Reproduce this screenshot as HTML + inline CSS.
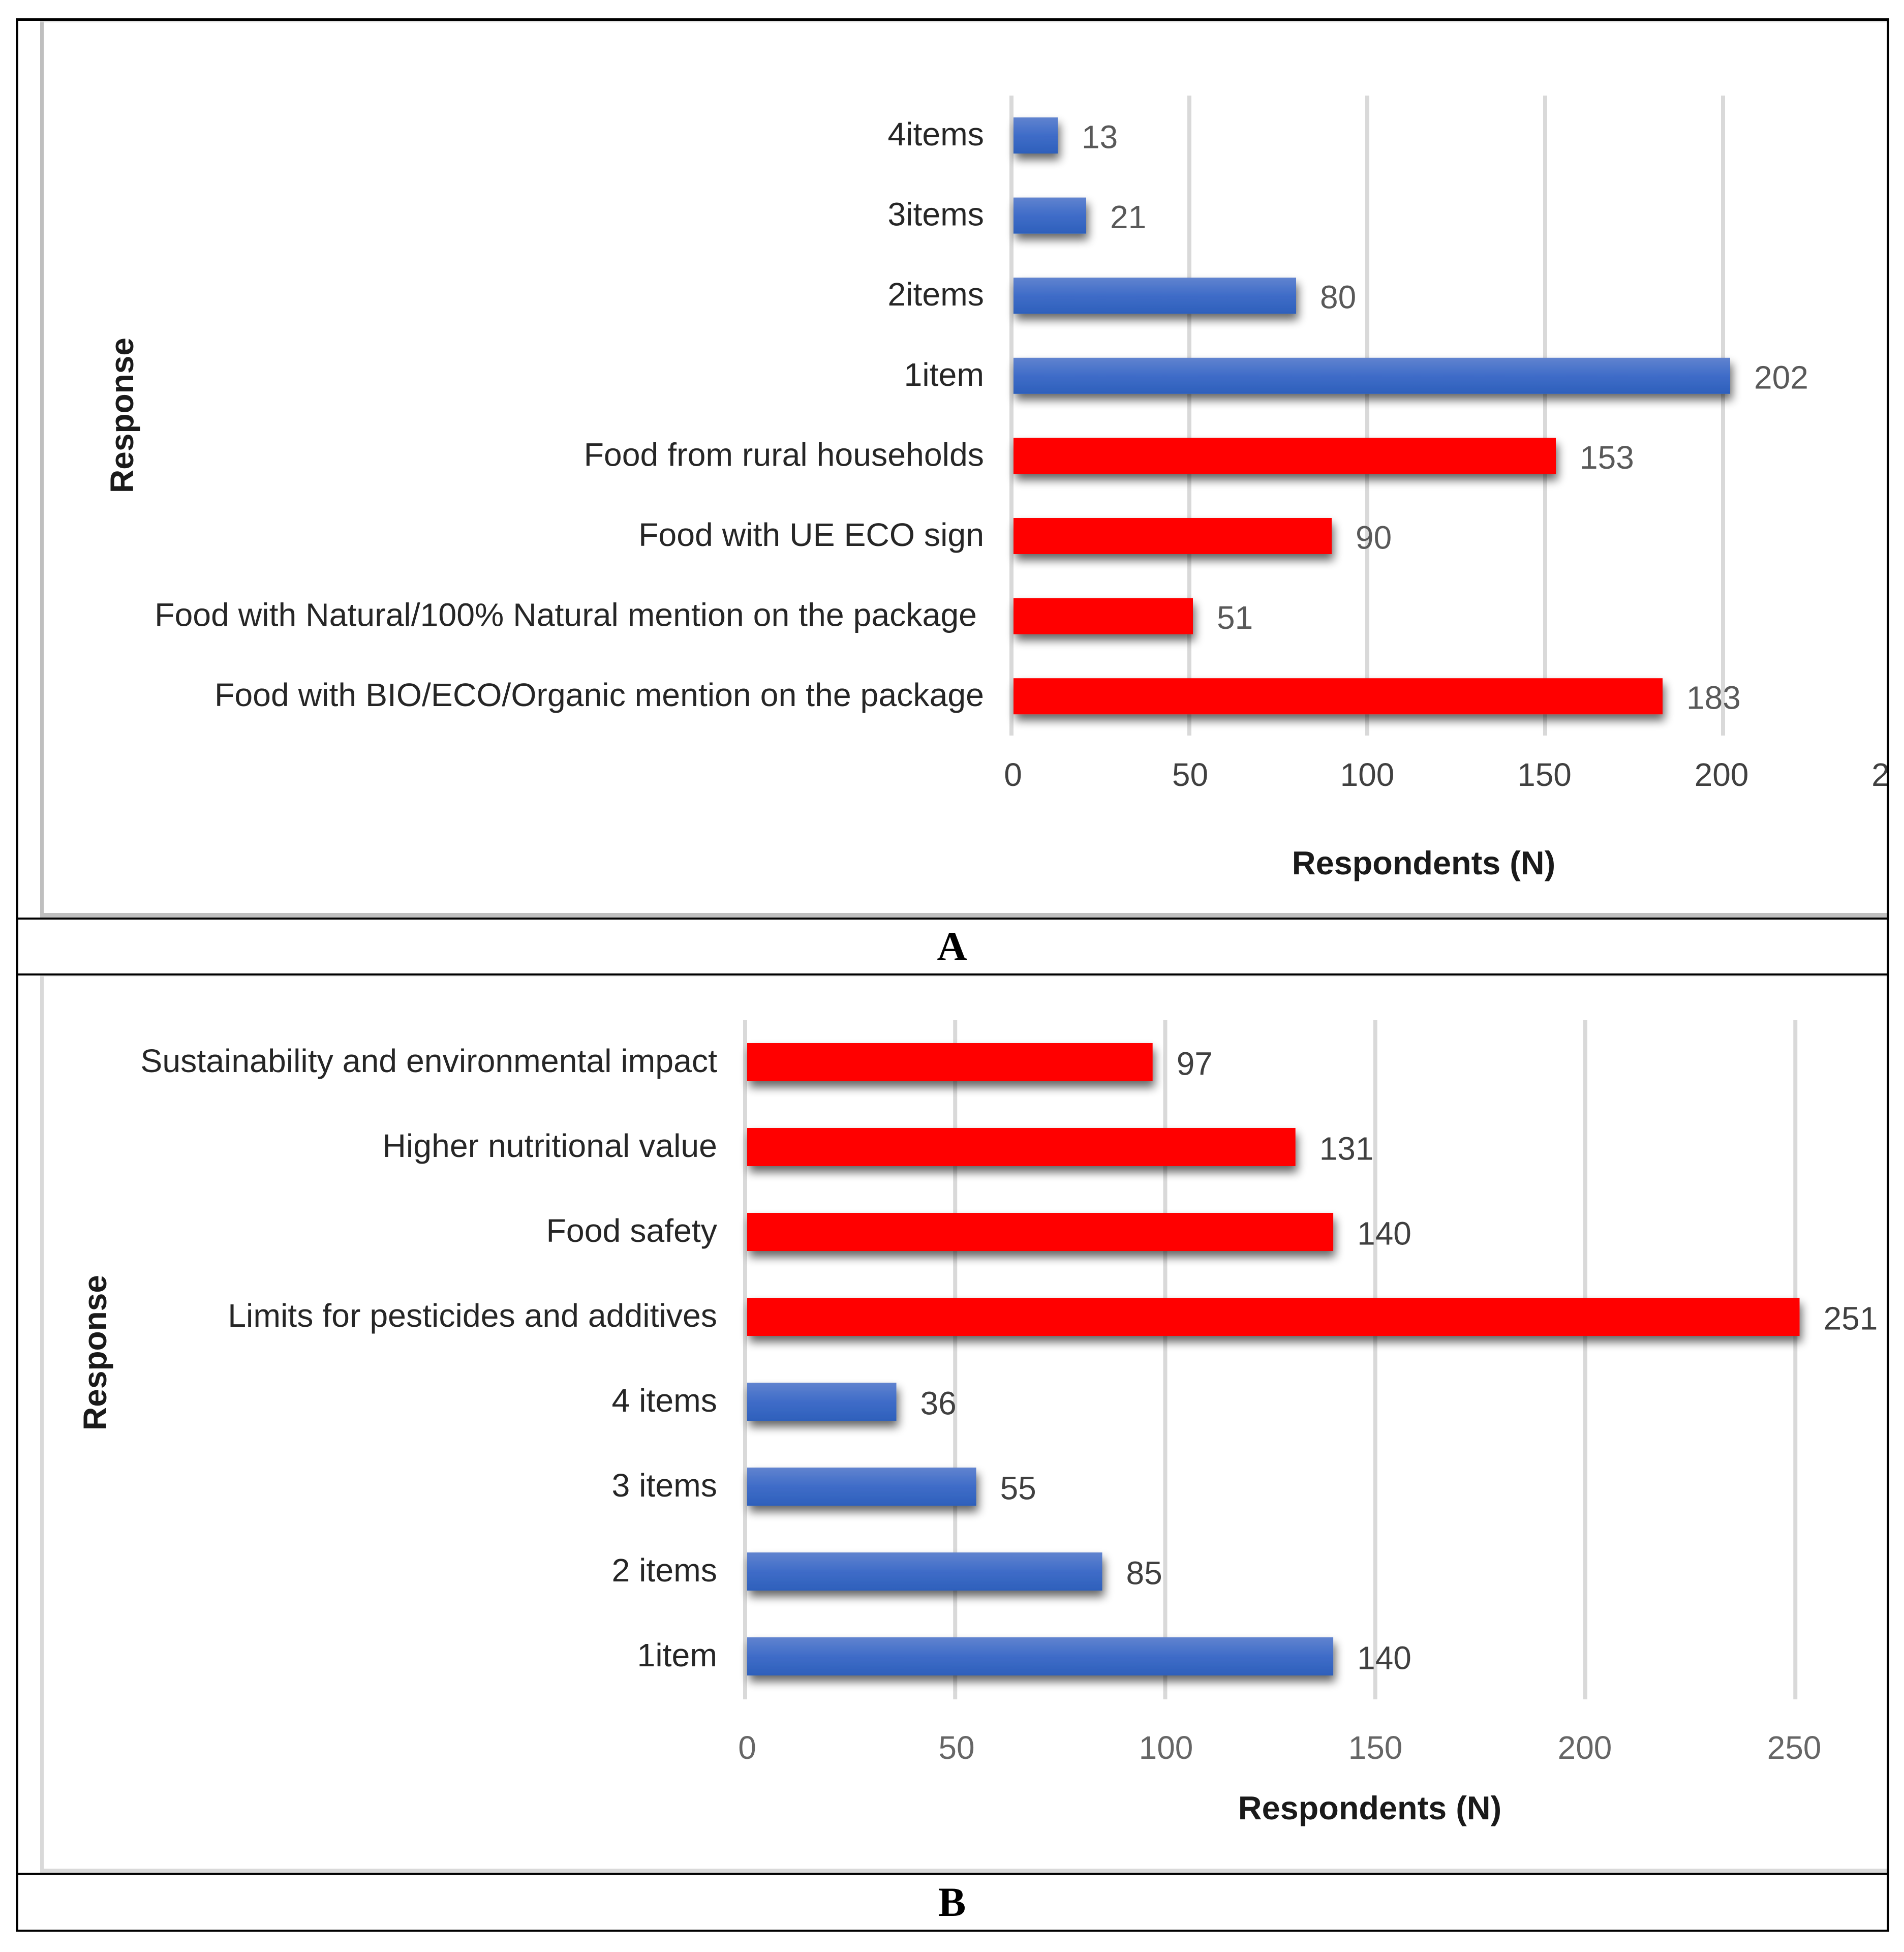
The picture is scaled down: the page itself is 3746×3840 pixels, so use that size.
<!DOCTYPE html>
<html lang="en">
<head>
<meta charset="utf-8">
<title>Respondents by response</title>
<style>
html,body{margin:0;padding:0;background:#fff}
svg{display:block;font-family:"Liberation Sans",Arial,sans-serif}
</style>
</head>
<body>
<svg id="figure" xmlns="http://www.w3.org/2000/svg" width="3746" height="3840" viewBox="0 0 3746 3840">
  <defs>
    <linearGradient id="blueFill" x1="0" y1="0" x2="0" y2="1">
      <stop offset="0" stop-color="#6083cf"/>
      <stop offset="0.5" stop-color="#3f6cc8"/>
      <stop offset="1" stop-color="#2e60bb"/>
    </linearGradient>
    <filter id="barShadow" filterUnits="userSpaceOnUse" x="1300" y="100" width="2446" height="3400">
      <feGaussianBlur in="SourceAlpha" stdDeviation="9"/>
      <feOffset dx="4" dy="12"/>
      <feComponentTransfer><feFuncA type="linear" slope="0.6"/></feComponentTransfer>
      <feMerge><feMergeNode/><feMergeNode in="SourceGraphic"/></feMerge>
    </filter>
  </defs>
  <rect width="3746" height="3840" fill="#fff"/>
  <g id="chartA"></g>
  <g id="chartB"></g>

  <rect x="3716" y="0" width="30" height="3840" fill="#fff"/>

  <g fill="#bfbfbf">
    <rect x="79" y="40" width="7" height="1765"/>
    <rect x="79" y="1796" width="3636" height="9"/>
    <rect x="79" y="42" width="3636" height="2" fill="#d9d9d9"/>
  </g>
  <g fill="#d9d9d9">
    <rect x="79" y="1918" width="7" height="1766"/>
    <rect x="79" y="3676" width="3636" height="8"/>
    <rect x="79" y="1918" width="3636" height="3" fill="#e6e6e6"/>
  </g>

  <g fill="#000">
    <rect x="31" y="36" width="3686" height="5"/>
    <rect x="31" y="36" width="5" height="3764"/>
    <rect x="3712" y="36" width="5" height="3764"/>
    <rect x="31" y="1805" width="3686" height="4"/>
    <rect x="31" y="1915" width="3686" height="4"/>
    <rect x="31" y="3684" width="3686" height="4"/>
    <rect x="31" y="3796" width="3686" height="4"/>
  </g>

  <text x="1873" y="1889" text-anchor="middle" font-family="'Liberation Serif',serif" font-weight="700" font-size="82" fill="#000">A</text>
  <text x="1873" y="3769" text-anchor="middle" font-family="'Liberation Serif',serif" font-weight="700" font-size="82" fill="#000">B</text>
</svg>
<script>
const categoriesA = ["4items","3items","2items","1item","Food from rural households","Food with UE ECO sign","Food with Natural/100% Natural mention on the package","Food with BIO/ECO/Organic mention on the package"];
const valuesA = [13,21,80,202,153,90,51,183];
const kindsA = ["count","count","count","count","type","type","type","type"];
const ticksA = [0,50,100,150,200,250];

const categoriesB = ["Sustainability and environmental impact","Higher nutritional value","Food safety","Limits for pesticides and additives","4 items","3 items","2 items","1item"];
const valuesB = [97,131,140,251,36,55,85,140];
const kindsB = ["reason","reason","reason","reason","count","count","count","count"];
const ticksB = [0,50,100,150,200,250];

const SVGNS = "http://www.w3.org/2000/svg";
function make(tag, attrs, parent, content) {
  const el = document.createElementNS(SVGNS, tag);
  for (const k in attrs) el.setAttribute(k, attrs[k]);
  if (content !== undefined) el.textContent = content;
  parent.appendChild(el);
  return el;
}
function slug(s) {
  return String(s).toLowerCase().replace(/[^a-z0-9]+/g, '-').replace(/^-|-$/g, '');
}

function drawChart(root, prefix, cfg) {
  const x = v => cfg.x0 + cfg.unit * v;
  const tx = v => cfg.tickX0 + cfg.tickUnit * v;
  const y = i => cfg.bandTop + cfg.bandStep * i;

  cfg.ticks.forEach(t => {
    const grid = make('rect', {x: x(t) - 4, y: cfg.gridTop, width: 8, height: cfg.gridBottom - cfg.gridTop, fill: '#d9d9d9'}, root);
    
    
    if (x(t) > 3700) grid.setAttribute('display', 'none');
    const tick = make('text', {x: tx(t), y: cfg.tickBaseline, 'text-anchor': 'middle', 'font-size': 64, fill: cfg.tickColor}, root, t);
    
    
  });

  cfg.categories.forEach((label, i) => {
    const v = cfg.values[i];
    const bar = make('rect', {
      x: x(0) + 4, y: y(i), width: x(v) - x(0) - 4, height: cfg.barHeight,
      fill: cfg.kinds[i] === 'count' ? 'url(#blueFill)' : '#ff0000',
      filter: 'url(#barShadow)'
    }, root);
    
    

    const anchorX = cfg.labelRight - (label.indexOf('with Natural') > 0 ? 14 : 0);
    const cat = make('text', {x: anchorX, y: y(i) + cfg.barHeight / 2 + 19.5, 'text-anchor': 'end', 'font-size': 64.4, fill: '#262626'}, root, label);
    
    

    const val = make('text', {x: x(v) + 47, y: y(i) + cfg.barHeight / 2 + 25, 'font-size': 64, fill: cfg.valueColor}, root, v);
    
    
  });

  const xTitle = make('text', {x: cfg.xTitleX, y: cfg.xTitleY, 'text-anchor': 'middle', 'font-size': 64.8, 'font-weight': 700, fill: '#1a1a1a'}, root, 'Respondents (N)');
  
  

  const yTitle = make('text', {transform: 'translate(' + cfg.yTitleX + ' ' + cfg.yTitleY + ') rotate(-90)', 'text-anchor': 'middle', 'font-size': 64, 'font-weight': 700, fill: '#1a1a1a'}, root, 'Response');
  
  
}

drawChart(document.getElementById('chartA'), 'a', {
  categories: categoriesA, values: valuesA, kinds: kindsA, ticks: ticksA,
  x0: 1990, unit: 7, tickX0: 1993, tickUnit: 6.97, bandTop: 231, bandStep: 157.6, barHeight: 71,
  gridTop: 188, gridBottom: 1447, tickBaseline: 1546, labelRight: 1936,
  tickColor: '#404040', valueColor: '#595959',
  xTitleX: 2801, xTitleY: 1720, yTitleX: 262, yTitleY: 817
});
drawChart(document.getElementById('chartB'), 'b', {
  categories: categoriesB, values: valuesB, kinds: kindsB, ticks: ticksB,
  x0: 1466, unit: 8.265, tickX0: 1470, tickUnit: 8.24, bandTop: 2052, bandStep: 167, barHeight: 75,
  gridTop: 2007, gridBottom: 3343, tickBaseline: 3460, labelRight: 1411,
  tickColor: '#666666', valueColor: '#404040',
  xTitleX: 2695, xTitleY: 3579, yTitleX: 209, yTitleY: 2661
});
</script>
</body>
</html>
